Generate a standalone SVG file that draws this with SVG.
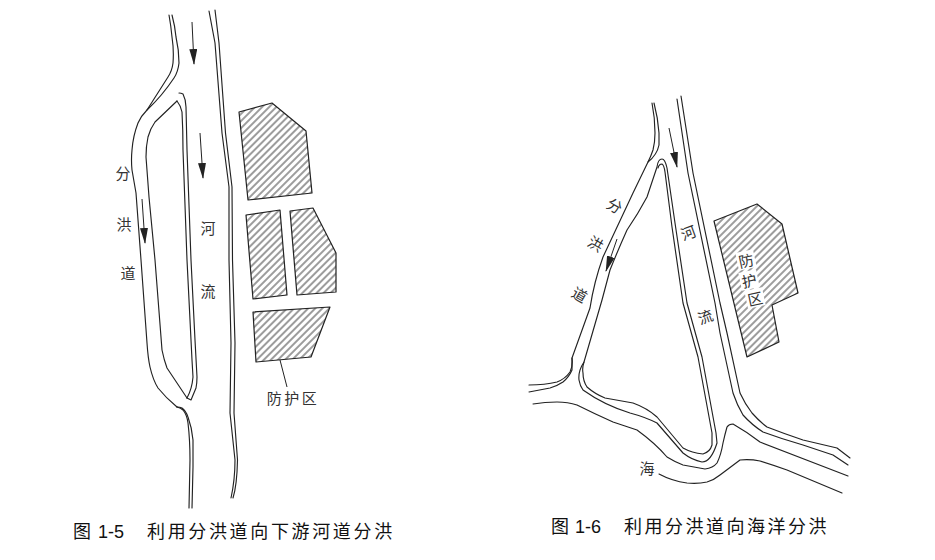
<svg xmlns="http://www.w3.org/2000/svg" width="935" height="560" viewBox="0 0 935 560">
<style>
.b{fill:none;stroke:#222;stroke-width:1.15;stroke-linecap:round;stroke-linejoin:round}
.z{fill:url(#h);stroke:#222;stroke-width:1.2;stroke-linejoin:round}
.s{stroke:#222;stroke-width:1;fill:none}
.t{font-family:"Noto Sans CJK SC","Liberation Serif",serif;font-size:15px;fill:#333;text-anchor:middle;dominant-baseline:central}
.c{font-family:"Noto Sans CJK SC","Liberation Sans",sans-serif;font-size:18px;fill:#111}
.n{font-family:"Liberation Sans",sans-serif}
</style>
<defs>
<pattern id="h" width="5" height="5" patternUnits="userSpaceOnUse" patternTransform="rotate(45)"><rect width="5" height="5" fill="#fff"/><line x1="1" y1="0" x2="1" y2="5" stroke="#222" stroke-width="0.9"/></pattern>
<marker id="a" markerUnits="userSpaceOnUse" markerWidth="16" markerHeight="8" refX="15" refY="4" orient="auto" viewBox="0 0 16 8"><path d="M0 0L16 4L0 8Z" fill="#222"/></marker>
</defs>
<g id="connectors-15">
<path class="b" d="M169 15Q171 26 172 37Q174 50 173 63Q172 71 168 77L147 110Q141 116 138 123Q133 136 132 150Q131 160 132 170L136 193L141 260L147 343Q148 358 150 367Q153 380 158 388Q166 398 177 407"/>
<path class="b" d="M172 15Q175 26 176 37Q179 50 179 63Q178 72 174 78Q162 96 147 110"/>
<path class="b" d="M177 101L155 122Q150 129 148 137Q146 146 146 157L149 197L155 260L162 350Q164 360 167 368L187 398"/>
<path class="b" d="M177 101Q181 106 182 112Q183 130 183 150L187 260L192 360L193 377Q192 389 187 398"/>
<path class="b" d="M179 93Q181 93 183 94Q186 100 186 107L187 150L191 260L195 340L197 377Q197 383 196 388L191 400L187 398"/>
<path class="b" d="M177 407Q181 408 183 410Q187 415 188 423Q190 440 190 460L189 508"/>
<path class="b" d="M177 407Q180 407 182 408Q186 411 188 417Q192 428 193 440L193 467L192 508"/>
<path class="b" d="M209 11L215 43L222 133L229 187L229 260L231 343L230 413L235 460Q235 480 231 498"/>
<path class="b" d="M215 10L219 43L225.5 133L232 187L232.5 260L235 343L234 413L237.5 460Q237 485 233 498"/>
<line class="s" x1="192" y1="22" x2="194" y2="64" marker-end="url(#a)"/>
<line class="s" x1="200" y1="133" x2="203" y2="178" marker-end="url(#a)"/>
<line class="s" x1="142" y1="199" x2="145" y2="243" marker-end="url(#a)"/>
<line class="s" x1="280" y1="360" x2="287" y2="387"/>
</g>
<g id="protected-15">
<polygon class="z" points="239,112 272,103 306,131 312,193 248,200"/>
<polygon class="z" points="246,215 280,210 287,295 253,299"/>
<polygon class="z" points="290,211 313,208 336,253 336,292 297,295"/>
<polygon class="z" points="253,312 330,307 311,357 256,362"/>
</g>
<g id="labels-15">
<text class="t" x="123" y="172">分</text>
<text class="t" x="124" y="223">洪</text>
<text class="t" x="128" y="272">道</text>
<text class="t" x="208" y="227">河</text>
<text class="t" x="208" y="290">流</text>
<text class="t" x="293" y="397" style="letter-spacing:2.5px">防护区</text>
</g>
<g id="connectors-16">
<path class="b" d="M652 103Q655 118 655 133Q655 142 653 150Q651 156 648 162L633 193L603 257Q594 282 590 308L572 358Q573 366 570 372Q565 379 557 382Q545 385 529 385"/>
<path class="b" d="M654 103Q658 118 659 133L659 145Q657 155 648 162"/>
<path class="b" d="M657 167L647 197Q638 214 627 230Q618 250 610 270L602 300L584 362Q578 371 579 380Q580 386 583 390Q604 405 630 413Q645 417 657 423Q670 438 683 453Q692 460 702 462Q711 462 717 443L716 433L702 357L687 303L675 223L667 168Q665 159 662 159Q658 159 657 167"/>
<path class="b" d="M584 362Q582 368 583 373Q583 381 587 387Q595 394 605 398L633 403Q647 408 657 417L683 448Q692 453 703 454Q710 452 712 445L712 433L698 357L683 303L672 227L665 172Q664 165 662 164Q659 164 658 168"/>
<path class="b" d="M572 358Q572 365 572 370Q569 377 563 382Q557 386 550 388L529 392"/>
<path class="b" d="M533 404Q545 402 557 402Q568 402 577 405Q595 414 613 422L637 430Q655 443 667 457Q675 462 683 465L705 469Q713 468 717 463Q721 455 723 443Q725 434 727 427Q729 424 733 424Q747 432 760 442L848 476"/>
<path class="b" d="M659 474Q672 481 687 483Q698 484 707 482Q714 480 720 475L740 460Q750 459 760 461Q773 465 787 470L842 493"/>
<path class="b" d="M677 99L688 173L715 303L720 333L733 393Q737 405 743 415Q752 425 763 432Q782 439 803 445L833 455L848 465"/>
<path class="b" d="M681 96L693 173L720 303L727 333L740 393Q745 404 752 413Q759 421 767 427Q785 434 803 440L837 448L850 458"/>
<line class="s" x1="669" y1="128" x2="677" y2="167" marker-end="url(#a)"/>
<line class="s" x1="617" y1="239" x2="606" y2="271" marker-end="url(#a)"/>
</g>
<g id="protected-16">
<polygon class="z" points="714,221 757,204 782,224 798,293 772,305 779,342 747,357"/>
<rect x="737" y="251" width="18" height="18" fill="#fff" transform="rotate(-12 746 260)"/>
<rect x="740" y="271" width="18" height="18" fill="#fff" transform="rotate(-12 749 280)"/>
<rect x="746" y="289" width="18" height="18" fill="#fff" transform="rotate(-12 755 298)"/>
</g>
<g id="labels-16">
<text class="t" transform="translate(615 205) rotate(30)">分</text>
<text class="t" transform="translate(596 243) rotate(30)">洪</text>
<text class="t" transform="translate(580 294) rotate(30)">道</text>
<text class="t" transform="translate(688 232) rotate(-20)">河</text>
<text class="t" transform="translate(705 316) rotate(-20)">流</text>
<text class="t" transform="translate(746 260) rotate(-12)">防</text>
<text class="t" transform="translate(749 280) rotate(-12)">护</text>
<text class="t" transform="translate(755 298) rotate(-12)">区</text>
<text class="t" x="647" y="467">海</text>
</g>
<g id="captions">
<text class="c" x="73" y="538">图</text>
<text class="c n" x="98" y="538">1-5</text>
<text class="c" x="147" y="538" style="letter-spacing:2.65px">利用分洪道向下游河道分洪</text>
<text class="c" x="551" y="533">图</text>
<text class="c n" x="575" y="533">1-6</text>
<text class="c" x="624" y="533" style="letter-spacing:2.5px">利用分洪道向海洋分洪</text>
</g>
</svg>
